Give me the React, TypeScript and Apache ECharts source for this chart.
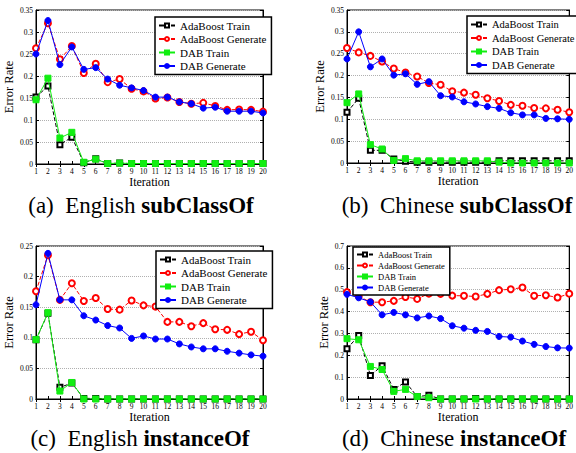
import React, { useEffect, useRef } from "react";
import * as echarts from "echarts";

const iterations = ["1","2","3","4","5","6","7","8","9","10","11","12","13","14","15","16","17","18","19","20"];
const seriesNames = ["AdaBoost Train", "AdaBoost Generate", "DAB Train", "DAB Generate"];

// (a) English subClassOf
const aAdaTrain = [0.152, 0.177, 0.044, 0.061, 0.003, 0.012, 0.001, 0.002, 0.001, 0.001, 0.001, 0.001, 0.001, 0.001, 0.001, 0.001, 0.001, 0.001, 0.001, 0.001];
const aAdaGen = [0.263, 0.320, 0.238, 0.268, 0.207, 0.228, 0.186, 0.193, 0.171, 0.165, 0.149, 0.151, 0.141, 0.137, 0.139, 0.132, 0.123, 0.124, 0.123, 0.119];
const aDabTrain = [0.146, 0.195, 0.059, 0.072, 0.004, 0.011, 0.001, 0.002, 0.001, 0.001, 0.001, 0.001, 0.001, 0.001, 0.001, 0.001, 0.001, 0.001, 0.001, 0.001];
const aDabGen = [0.250, 0.326, 0.226, 0.266, 0.215, 0.219, 0.193, 0.179, 0.173, 0.167, 0.152, 0.152, 0.141, 0.137, 0.127, 0.129, 0.120, 0.120, 0.120, 0.116];

// (b) Chinese subClassOf
const bAdaTrain = [0.116, 0.148, 0.029, 0.029, 0.009, 0.004, 0.002, 0.002, 0.002, 0.002, 0.002, 0.002, 0.002, 0.005, 0.005, 0.005, 0.005, 0.005, 0.005, 0.005];
const bAdaGen = [0.263, 0.253, 0.245, 0.232, 0.216, 0.207, 0.198, 0.183, 0.179, 0.164, 0.161, 0.156, 0.148, 0.142, 0.133, 0.131, 0.126, 0.125, 0.122, 0.116];
const bDabTrain = [0.138, 0.158, 0.042, 0.032, 0.006, 0.010, 0.005, 0.005, 0.005, 0.005, 0.005, 0.005, 0.005, 0.002, 0.000, 0.000, 0.000, 0.000, 0.000, 0.000];
const bDabGen = [0.238, 0.300, 0.220, 0.238, 0.201, 0.204, 0.180, 0.186, 0.154, 0.151, 0.140, 0.135, 0.129, 0.125, 0.115, 0.110, 0.110, 0.102, 0.101, 0.100];

// (c) English instanceOf
const cAdaTrain = [0.097, 0.140, 0.019, 0.026, 0.001, 0.001, 0.000, 0.000, 0.000, 0.000, 0.000, 0.000, 0.000, 0.000, 0.000, 0.000, 0.000, 0.000, 0.000, 0.000];
const cAdaGen = [0.176, 0.235, 0.162, 0.189, 0.160, 0.165, 0.147, 0.146, 0.161, 0.153, 0.151, 0.126, 0.126, 0.119, 0.124, 0.114, 0.113, 0.106, 0.110, 0.096];
const cDabTrain = [0.097, 0.141, 0.013, 0.027, 0.000, 0.000, 0.000, 0.000, 0.000, 0.000, 0.000, 0.000, 0.000, 0.000, 0.000, 0.000, 0.000, 0.000, 0.000, 0.000];
const cDabGen = [0.154, 0.238, 0.162, 0.162, 0.136, 0.129, 0.120, 0.116, 0.099, 0.103, 0.098, 0.098, 0.090, 0.085, 0.082, 0.082, 0.078, 0.075, 0.072, 0.070];

// (d) Chinese instanceOf
const dAdaTrain = [0.230, 0.290, 0.108, 0.152, 0.044, 0.078, 0.011, 0.017, 0.000, 0.000, 0.000, 0.002, 0.000, 0.000, 0.000, 0.000, 0.000, 0.000, 0.000, 0.000];
const dAdaGen = [0.489, 0.470, 0.443, 0.443, 0.449, 0.467, 0.458, 0.482, 0.481, 0.473, 0.472, 0.469, 0.481, 0.498, 0.502, 0.510, 0.472, 0.475, 0.464, 0.482];
const dDabTrain = [0.276, 0.271, 0.149, 0.135, 0.035, 0.044, 0.011, 0.006, 0.000, 0.000, 0.000, 0.000, 0.000, 0.000, 0.000, 0.000, 0.000, 0.000, 0.000, 0.000];
const dDabGen = [0.479, 0.463, 0.444, 0.385, 0.396, 0.385, 0.371, 0.380, 0.368, 0.335, 0.324, 0.314, 0.309, 0.286, 0.283, 0.265, 0.250, 0.240, 0.234, 0.233];

const yMax = [0.35, 0.35, 0.25, 0.7];
const yInterval = [0.05, 0.05, 0.05, 0.1];
const captionPrefix = ["(a)", "(b)", "(c)", "(d)"];
const captionLang = ["English", "Chinese", "English", "Chinese"];
const captionBold = ["subClassOf", "subClassOf", "instanceOf", "instanceOf"];

const panelData = [
  [aAdaTrain, aAdaGen, aDabTrain, aDabGen],
  [bAdaTrain, bAdaGen, bDabTrain, bDabGen],
  [cAdaTrain, cAdaGen, cDabTrain, cDabGen],
  [dAdaTrain, dAdaGen, dDabTrain, dDabGen],
];

const FONT = "'Liberation Serif', 'Times New Roman', serif";

const grids = [
  { left: 36, top: 10, width: 227, height: 154 },
  { left: 347, top: 10, width: 228, height: 153 },
  { left: 36, top: 246, width: 227, height: 153 },
  { left: 347, top: 246, width: 228, height: 153 },
];
const yNameGap = [17, 12, 17, 12];
const xNameGap = [7, 7, 9, 9];
const legendPos = [
  { left: 155, top: 17, fs: 11, lh: 10, gap: 2.5 },
  { left: 467, top: 16, fs: 10.5, lh: 10, gap: 2.5 },
  { left: 156, top: 251, fs: 11, lh: 10, gap: 2.5 },
  { left: 353, top: 247, fs: 8.5, lh: 9, gap: 2 },
];
const captionPos = [
  { x: 141, y: 205 },
  { x: 457, y: 205 },
  { x: 140, y: 438 },
  { x: 454, y: 438 },
];

const styles = [
  { color: "#000000", type: "dashed", symbol: "emptyRect", size: 5 },
  { color: "#ff0000", type: "dashed", symbol: "emptyCircle", size: 6 },
  { color: "#11ee11", type: "solid", symbol: "rect", size: 6 },
  { color: "#0000ff", type: "solid", symbol: "circle", size: 6 },
];

export default function App() {
  const ref = useRef<HTMLDivElement>(null);
  useEffect(() => {
    if (!ref.current) return;
    const chart = echarts.init(ref.current, null, { renderer: "svg" });
    const xAxis: any[] = [];
    const yAxis: any[] = [];
    const series: any[] = [];
    const legend: any[] = [];
    const graphic: any[] = [];
    const labelStyle = { fontFamily: FONT, fontSize: 7.5, color: "#000" };
    const axisLine = { show: true, lineStyle: { color: "#000", width: 1 } };
    grids.forEach((g, i) => {
      xAxis.push({
        gridIndex: i, type: "category", data: iterations, boundaryGap: false, position: "bottom",
        axisLine, axisTick: { show: true, inside: true, length: 3, alignWithLabel: true, lineStyle: { color: "#000" } },
        axisLabel: { ...labelStyle, margin: 3, interval: 0 },
        name: "Iteration", nameLocation: "middle", nameGap: xNameGap[i],
        nameTextStyle: { fontFamily: FONT, fontSize: 12, color: "#000" },
        splitLine: { show: false },
      });
      xAxis.push({
        gridIndex: i, type: "category", data: iterations, boundaryGap: false, position: "top",
        axisLine, axisTick: { show: true, inside: true, length: 3, lineStyle: { color: "#000" } },
        axisLabel: { show: false }, splitLine: { show: false },
      });
      yAxis.push({
        gridIndex: i, type: "value", min: 0, max: yMax[i], interval: yInterval[i], position: "left",
        axisLine, axisTick: { show: true, inside: true, length: 3, lineStyle: { color: "#000" } },
        axisLabel: { ...labelStyle, margin: 3 },
        name: "Error Rate", nameLocation: "middle", nameGap: yNameGap[i],
        nameTextStyle: { fontFamily: FONT, fontSize: 12.5, color: "#000" },
        splitLine: { show: true, lineStyle: { color: "#b0b0b0", type: "dotted", width: 1 } },
      });
      yAxis.push({
        gridIndex: i, type: "value", min: 0, max: yMax[i], interval: yInterval[i], position: "right",
        axisLine, axisTick: { show: true, inside: true, length: 3, lineStyle: { color: "#000" } },
        axisLabel: { show: false }, splitLine: { show: false },
      });
      panelData[i].forEach((vals, k) => {
        const s = styles[k];
        series.push({
          name: seriesNames[k], type: "line", xAxisIndex: 2 * i, yAxisIndex: 2 * i,
          data: vals, symbol: s.symbol, symbolSize: s.size, showSymbol: true,
          lineStyle: { color: s.color, width: 1, type: s.type },
          itemStyle: { color: s.color, borderColor: s.color, borderWidth: 1 },
          emphasis: { disabled: true }, z: k === 2 || k === 3 ? 3 : 2,
        });
      });
      const lp = legendPos[i];
      legend.push({
        show: true, orient: "vertical", left: lp.left, top: lp.top,
        data: seriesNames, itemWidth: 16, itemHeight: 5, itemGap: lp.gap,
        padding: [3, 5, 3, 3], borderColor: "#000", borderWidth: 1.5, backgroundColor: "#fff",
        textStyle: { fontFamily: FONT, fontSize: lp.fs, lineHeight: lp.lh, color: "#000" },
        selectedMode: false,
      });
      const cp = captionPos[i];
      graphic.push({
        type: "text", x: cp.x, y: cp.y,
        style: {
          text: `{n|${captionPrefix[i]}  ${captionLang[i]} }{b|${captionBold[i]}}`,
          align: "center", verticalAlign: "middle",
          rich: {
            n: { fontFamily: FONT, fontSize: 23, fill: "#000" },
            b: { fontFamily: FONT, fontSize: 23, fontWeight: "bold", fill: "#000" },
          },
        },
      });
    });
    chart.setOption({
      animation: false,
      backgroundColor: "#fff",
      grid: grids.map((g) => ({ ...g, show: true, borderColor: "#000", borderWidth: 1, backgroundColor: "transparent", containLabel: false })),
      xAxis, yAxis, series, legend, graphic,
    });
    return () => chart.dispose();
  }, []);
  return <div ref={ref} style={{ position: "fixed", left: 0, top: 0, width: 576, height: 453 }} />;
}
